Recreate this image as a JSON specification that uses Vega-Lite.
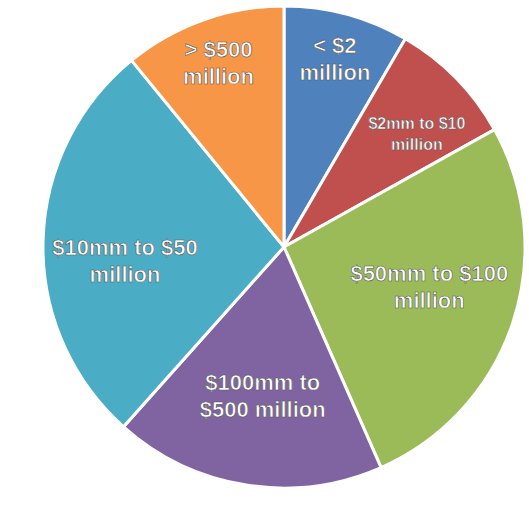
{
  "$schema": "https://vega.github.io/schema/vega-lite/v6.json",
  "width": 490,
  "height": 494,
  "autosize": {"type": "none"},
  "padding": {"left": 39, "top": 0, "right": 0, "bottom": 17},
  "background": "white",
  "config": {
    "view": {"stroke": null},
    "text": {"font": "Arial, Liberation Sans, sans-serif", "fontWeight": "bold", "fontSize": 22, "lineHeight": 27, "lineBreak": "\n", "fill": "white", "stroke": "#555555", "strokeWidth": 0.6, "align": "center", "baseline": "middle"}
  },
  "data": {
    "values": [
      {"category": "< $2 million", "label": "< $2\nmillion", "share": 8.4, "order": 1},
      {"category": "$2mm to $10 million", "label": "$2mm to $10\nmillion", "share": 8.5, "order": 2},
      {"category": "$50mm to $100 million", "label": "$50mm to $100\nmillion", "share": 26.5, "order": 3},
      {"category": "$100mm to $500 million", "label": "$100mm to\n$500 million", "share": 18.2, "order": 4},
      {"category": "$10mm to $50 million", "label": "$10mm to $50\nmillion", "share": 27.5, "order": 5},
      {"category": "> $500 million", "label": "> $500\nmillion", "share": 10.9, "order": 6}
    ]
  },
  "encoding": {
    "theta": {"field": "share", "type": "quantitative", "stack": true},
    "order": {"field": "order", "type": "quantitative"}
  },
  "layer": [
    {
      "mark": {"type": "arc", "outerRadius": 241, "stroke": "white", "strokeWidth": 3},
      "encoding": {
        "color": {
          "field": "category",
          "type": "nominal",
          "legend": null,
          "scale": {
            "domain": ["< $2 million", "$2mm to $10 million", "$50mm to $100 million", "$100mm to $500 million", "$10mm to $50 million", "> $500 million"],
            "range": ["#4F81BD", "#C0504D", "#9BBB59", "#8064A2", "#4BACC6", "#F79646"]
          }
        }
      }
    },
    {
      "mark": {"type": "text", "radius": 195, "dy": -13},
      "encoding": {
        "text": {"condition": {"test": "datum.category === '< $2 million'", "field": "label"}, "value": ""}
      }
    },
    {
      "mark": {"type": "text", "radius": 195, "dy": -13},
      "encoding": {
        "text": {"condition": {"test": "datum.category === '> $500 million'", "field": "label"}, "value": ""}
      }
    },
    {
      "mark": {"type": "text", "radius": 175, "dx": 8, "dy": 0, "fontSize": 16, "lineHeight": 21, "strokeWidth": 0.5},
      "encoding": {
        "text": {"condition": {"test": "datum.category === '$2mm to $10 million'", "field": "label"}, "value": ""}
      }
    },
    {
      "mark": {"type": "text", "radius": 149, "dx": 4, "dy": -20},
      "encoding": {
        "text": {"condition": {"test": "datum.category === '$50mm to $100 million'", "field": "label"}, "value": ""}
      }
    },
    {
      "mark": {"type": "text", "radius": 149, "dx": 2, "dy": -11},
      "encoding": {
        "text": {"condition": {"test": "datum.category === '$100mm to $500 million'", "field": "label"}, "value": ""}
      }
    },
    {
      "mark": {"type": "text", "radius": 160, "dx": 1, "dy": 5},
      "encoding": {
        "text": {"condition": {"test": "datum.category === '$10mm to $50 million'", "field": "label"}, "value": ""}
      }
    }
  ]
}
